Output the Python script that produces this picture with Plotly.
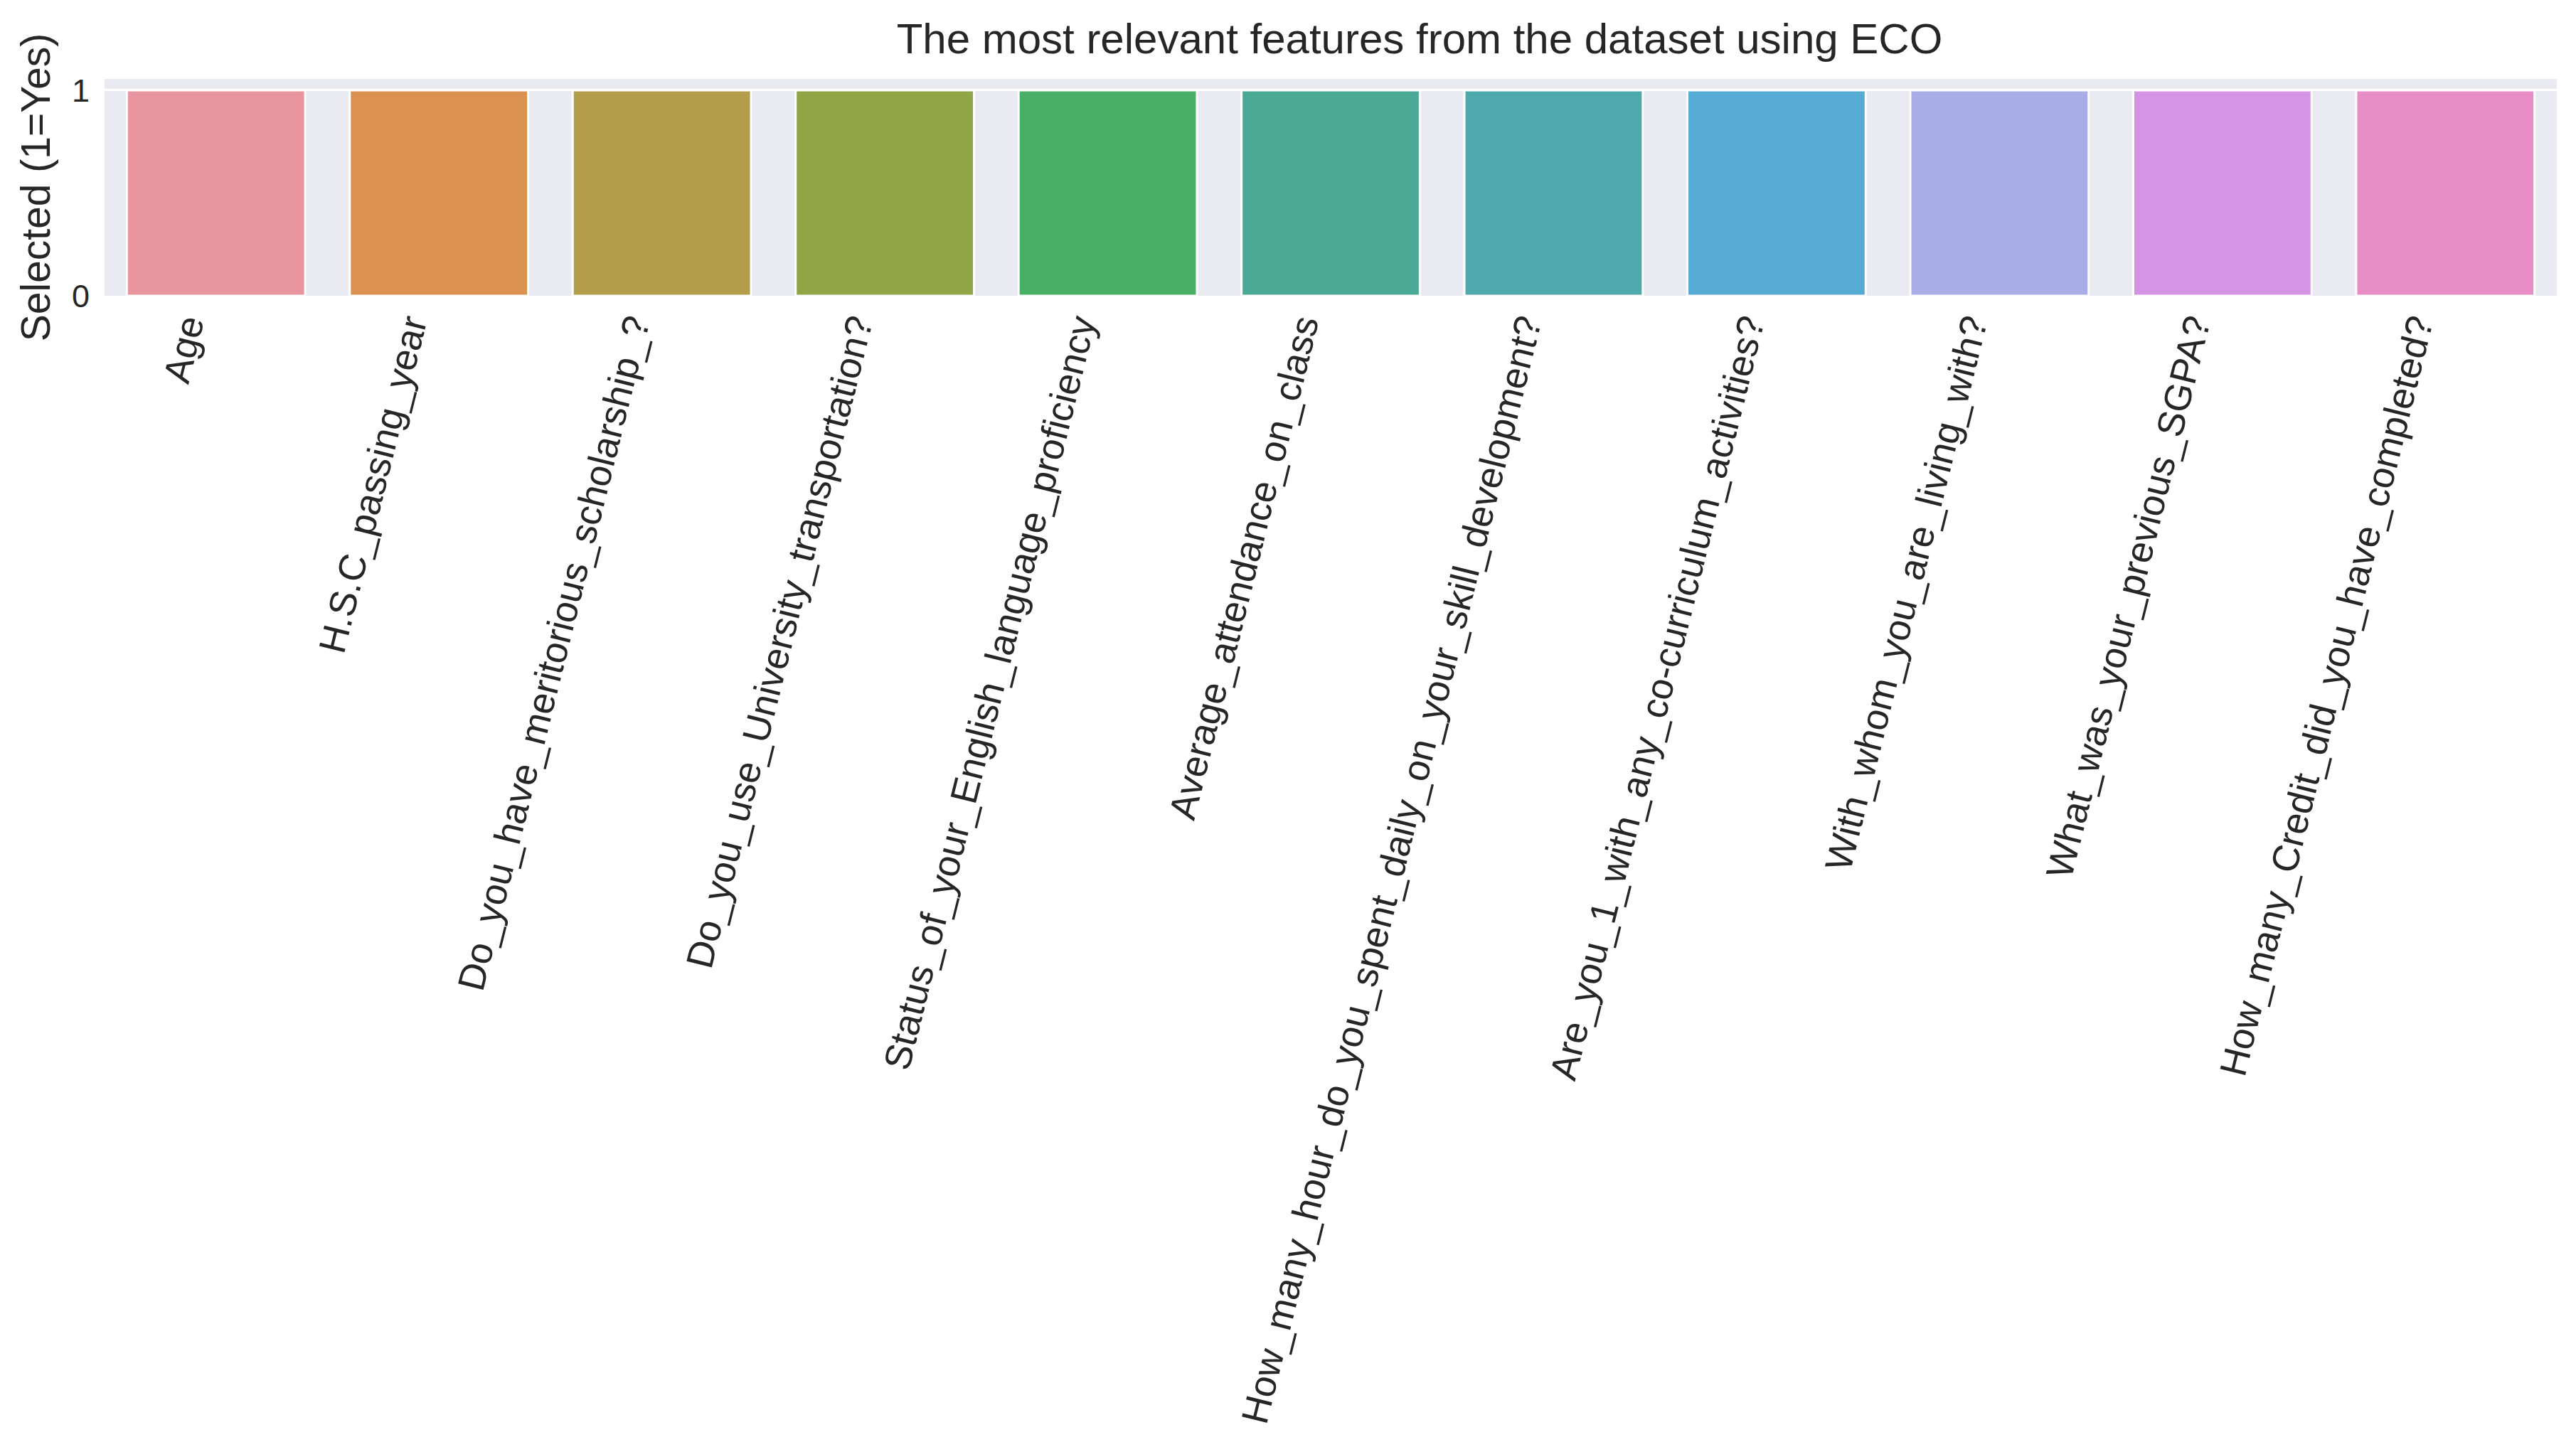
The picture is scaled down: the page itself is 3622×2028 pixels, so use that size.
import plotly.graph_objects as go

features = [
    "Age",
    "H.S.C_passing_year",
    "Do_you_have_meritorious_scholarship_?",
    "Do_you_use_University_transportation?",
    "Status_of_your_English_language_proficiency",
    "Average_attendance_on_class",
    "How_many_hour_do_you_spent_daily_on_your_skill_development?",
    "Are_you_1_with_any_co-curriculum_activities?",
    "With_whom_you_are_living_with?",
    "What_was_your_previous_SGPA?",
    "How_many_Credit_did_you_have_completed?",
]
selected = [1, 1, 1, 1, 1, 1, 1, 1, 1, 1, 1]
bar_colors = [
    "#E8959F", "#DB9250", "#B39C4A", "#8FA546", "#49AF66", "#4AAA96",
    "#4EA9AD", "#55ABD3", "#A8ADE8", "#D593E6", "#E88DC6",
]

fig = go.Figure(
    go.Bar(
        x=list(range(len(features))),
        y=selected,
        marker=dict(color=bar_colors, line=dict(color="white", width=3)),
        width=0.8,
        showlegend=False,
    )
)

fig.update_layout(
    width=3622,
    height=2028,
    paper_bgcolor="white",
    plot_bgcolor="#EAEAF2",
    margin=dict(l=139, r=35, t=103, b=1620, autoexpand=False),
    font=dict(family="Liberation Sans, Arial, sans-serif", color="#262626"),
    title=dict(
        text="The most relevant features from the dataset using ECO",
        xref="container",
        x=1988 / 3622, xanchor="center",
        y=1 - 46 / 2028, yanchor="middle",
        font=dict(size=60, color="#262626"),
    ),
)

fig.update_xaxes(
    tickmode="array",
    tickvals=list(range(len(features))),
    ticktext=features,
    tickangle=-76,
    tickfont=dict(size=53),
    ticklabelshift=-42,
    range=[-0.5, 10.5],
    showgrid=False,
    zeroline=False,
    showline=False,
    ticks="",
    automargin=False,
)
fig.update_yaxes(
    title=dict(text="Selected (1=Yes)", font=dict(size=57), standoff=12),
    range=[0, 1.055],
    tickvals=[0, 1],
    tickfont=dict(size=45),
    ticklabelstandoff=20,
    showgrid=True,
    gridcolor="white",
    gridwidth=3,
    zeroline=False,
    showline=False,
    ticks="",
    automargin=False,
)

fig.write_html("out.html")
